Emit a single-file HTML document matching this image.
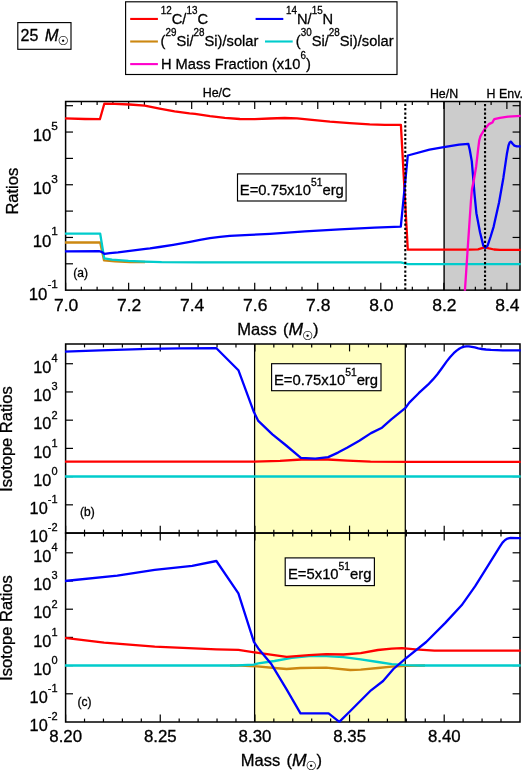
<!DOCTYPE html>
<html lang="en">
<head>
<meta charset="utf-8">
<title>25 M&#9737; isotope ratios</title>
<style>html,body{margin:0;padding:0;background:#fff}svg{display:block}text{stroke:#000;stroke-width:.3px}</style>
</head>
<body>
<svg width="522" height="770" viewBox="0 0 522 770" font-family='"Liberation Sans", sans-serif' fill="#000">
<rect x="0" y="0" width="522" height="770" fill="#fff"/>
<rect x="444.1" y="101.5" width="75.9" height="188.65" fill="#cccccc"/>
<rect x="254.6" y="344" width="150.7" height="378" fill="#ffffc0"/>
<defs>
<clipPath id="ca"><rect x="64.9" y="100.8" width="455.8" height="190.05"/></clipPath>
<clipPath id="cb"><rect x="64.9" y="343.3" width="455.8" height="190.45"/></clipPath>
<clipPath id="cc"><rect x="64.9" y="532.35" width="455.8" height="190.35"/></clipPath>
</defs>
<line x1="444.1" y1="101.5" x2="444.1" y2="290.15" stroke="#000" stroke-width="1.4" />
<line x1="254.6" y1="344" x2="254.6" y2="722" stroke="#000" stroke-width="1.25" />
<line x1="405.3" y1="344" x2="405.3" y2="722" stroke="#000" stroke-width="1.25" />
<line x1="65.6" y1="290.15" x2="65.6" y2="282.75" stroke="#000" stroke-width="1.2" />
<line x1="65.6" y1="101.5" x2="65.6" y2="108.9" stroke="#000" stroke-width="1.2" />
<line x1="81.36" y1="290.15" x2="81.36" y2="286.75" stroke="#000" stroke-width="1.2" />
<line x1="81.36" y1="101.5" x2="81.36" y2="104.9" stroke="#000" stroke-width="1.2" />
<line x1="97.12" y1="290.15" x2="97.12" y2="286.75" stroke="#000" stroke-width="1.2" />
<line x1="97.12" y1="101.5" x2="97.12" y2="104.9" stroke="#000" stroke-width="1.2" />
<line x1="112.88" y1="290.15" x2="112.88" y2="286.75" stroke="#000" stroke-width="1.2" />
<line x1="112.88" y1="101.5" x2="112.88" y2="104.9" stroke="#000" stroke-width="1.2" />
<line x1="128.64" y1="290.15" x2="128.64" y2="282.75" stroke="#000" stroke-width="1.2" />
<line x1="128.64" y1="101.5" x2="128.64" y2="108.9" stroke="#000" stroke-width="1.2" />
<line x1="144.4" y1="290.15" x2="144.4" y2="286.75" stroke="#000" stroke-width="1.2" />
<line x1="144.4" y1="101.5" x2="144.4" y2="104.9" stroke="#000" stroke-width="1.2" />
<line x1="160.16" y1="290.15" x2="160.16" y2="286.75" stroke="#000" stroke-width="1.2" />
<line x1="160.16" y1="101.5" x2="160.16" y2="104.9" stroke="#000" stroke-width="1.2" />
<line x1="175.92" y1="290.15" x2="175.92" y2="286.75" stroke="#000" stroke-width="1.2" />
<line x1="175.92" y1="101.5" x2="175.92" y2="104.9" stroke="#000" stroke-width="1.2" />
<line x1="191.68" y1="290.15" x2="191.68" y2="282.75" stroke="#000" stroke-width="1.2" />
<line x1="191.68" y1="101.5" x2="191.68" y2="108.9" stroke="#000" stroke-width="1.2" />
<line x1="207.44" y1="290.15" x2="207.44" y2="286.75" stroke="#000" stroke-width="1.2" />
<line x1="207.44" y1="101.5" x2="207.44" y2="104.9" stroke="#000" stroke-width="1.2" />
<line x1="223.2" y1="290.15" x2="223.2" y2="286.75" stroke="#000" stroke-width="1.2" />
<line x1="223.2" y1="101.5" x2="223.2" y2="104.9" stroke="#000" stroke-width="1.2" />
<line x1="238.96" y1="290.15" x2="238.96" y2="286.75" stroke="#000" stroke-width="1.2" />
<line x1="238.96" y1="101.5" x2="238.96" y2="104.9" stroke="#000" stroke-width="1.2" />
<line x1="254.72" y1="290.15" x2="254.72" y2="282.75" stroke="#000" stroke-width="1.2" />
<line x1="254.72" y1="101.5" x2="254.72" y2="108.9" stroke="#000" stroke-width="1.2" />
<line x1="270.48" y1="290.15" x2="270.48" y2="286.75" stroke="#000" stroke-width="1.2" />
<line x1="270.48" y1="101.5" x2="270.48" y2="104.9" stroke="#000" stroke-width="1.2" />
<line x1="286.24" y1="290.15" x2="286.24" y2="286.75" stroke="#000" stroke-width="1.2" />
<line x1="286.24" y1="101.5" x2="286.24" y2="104.9" stroke="#000" stroke-width="1.2" />
<line x1="302" y1="290.15" x2="302" y2="286.75" stroke="#000" stroke-width="1.2" />
<line x1="302" y1="101.5" x2="302" y2="104.9" stroke="#000" stroke-width="1.2" />
<line x1="317.76" y1="290.15" x2="317.76" y2="282.75" stroke="#000" stroke-width="1.2" />
<line x1="317.76" y1="101.5" x2="317.76" y2="108.9" stroke="#000" stroke-width="1.2" />
<line x1="333.52" y1="290.15" x2="333.52" y2="286.75" stroke="#000" stroke-width="1.2" />
<line x1="333.52" y1="101.5" x2="333.52" y2="104.9" stroke="#000" stroke-width="1.2" />
<line x1="349.28" y1="290.15" x2="349.28" y2="286.75" stroke="#000" stroke-width="1.2" />
<line x1="349.28" y1="101.5" x2="349.28" y2="104.9" stroke="#000" stroke-width="1.2" />
<line x1="365.04" y1="290.15" x2="365.04" y2="286.75" stroke="#000" stroke-width="1.2" />
<line x1="365.04" y1="101.5" x2="365.04" y2="104.9" stroke="#000" stroke-width="1.2" />
<line x1="380.8" y1="290.15" x2="380.8" y2="282.75" stroke="#000" stroke-width="1.2" />
<line x1="380.8" y1="101.5" x2="380.8" y2="108.9" stroke="#000" stroke-width="1.2" />
<line x1="396.56" y1="290.15" x2="396.56" y2="286.75" stroke="#000" stroke-width="1.2" />
<line x1="396.56" y1="101.5" x2="396.56" y2="104.9" stroke="#000" stroke-width="1.2" />
<line x1="412.32" y1="290.15" x2="412.32" y2="286.75" stroke="#000" stroke-width="1.2" />
<line x1="412.32" y1="101.5" x2="412.32" y2="104.9" stroke="#000" stroke-width="1.2" />
<line x1="428.08" y1="290.15" x2="428.08" y2="286.75" stroke="#000" stroke-width="1.2" />
<line x1="428.08" y1="101.5" x2="428.08" y2="104.9" stroke="#000" stroke-width="1.2" />
<line x1="443.84" y1="290.15" x2="443.84" y2="282.75" stroke="#000" stroke-width="1.2" />
<line x1="443.84" y1="101.5" x2="443.84" y2="108.9" stroke="#000" stroke-width="1.2" />
<line x1="459.6" y1="290.15" x2="459.6" y2="286.75" stroke="#000" stroke-width="1.2" />
<line x1="459.6" y1="101.5" x2="459.6" y2="104.9" stroke="#000" stroke-width="1.2" />
<line x1="475.36" y1="290.15" x2="475.36" y2="286.75" stroke="#000" stroke-width="1.2" />
<line x1="475.36" y1="101.5" x2="475.36" y2="104.9" stroke="#000" stroke-width="1.2" />
<line x1="491.12" y1="290.15" x2="491.12" y2="286.75" stroke="#000" stroke-width="1.2" />
<line x1="491.12" y1="101.5" x2="491.12" y2="104.9" stroke="#000" stroke-width="1.2" />
<line x1="506.88" y1="290.15" x2="506.88" y2="282.75" stroke="#000" stroke-width="1.2" />
<line x1="506.88" y1="101.5" x2="506.88" y2="108.9" stroke="#000" stroke-width="1.2" />
<line x1="65.6" y1="263.8" x2="73" y2="263.8" stroke="#000" stroke-width="1.2" />
<line x1="520" y1="263.8" x2="512.6" y2="263.8" stroke="#000" stroke-width="1.2" />
<line x1="65.6" y1="237.45" x2="73" y2="237.45" stroke="#000" stroke-width="1.2" />
<line x1="520" y1="237.45" x2="512.6" y2="237.45" stroke="#000" stroke-width="1.2" />
<line x1="65.6" y1="211.1" x2="73" y2="211.1" stroke="#000" stroke-width="1.2" />
<line x1="520" y1="211.1" x2="512.6" y2="211.1" stroke="#000" stroke-width="1.2" />
<line x1="65.6" y1="184.75" x2="73" y2="184.75" stroke="#000" stroke-width="1.2" />
<line x1="520" y1="184.75" x2="512.6" y2="184.75" stroke="#000" stroke-width="1.2" />
<line x1="65.6" y1="158.4" x2="73" y2="158.4" stroke="#000" stroke-width="1.2" />
<line x1="520" y1="158.4" x2="512.6" y2="158.4" stroke="#000" stroke-width="1.2" />
<line x1="65.6" y1="132.05" x2="73" y2="132.05" stroke="#000" stroke-width="1.2" />
<line x1="520" y1="132.05" x2="512.6" y2="132.05" stroke="#000" stroke-width="1.2" />
<line x1="65.6" y1="105.7" x2="73" y2="105.7" stroke="#000" stroke-width="1.2" />
<line x1="520" y1="105.7" x2="512.6" y2="105.7" stroke="#000" stroke-width="1.2" />
<line x1="65.6" y1="533.05" x2="65.6" y2="525.65" stroke="#000" stroke-width="1.2" />
<line x1="65.6" y1="344" x2="65.6" y2="351.4" stroke="#000" stroke-width="1.2" />
<line x1="84.53" y1="533.05" x2="84.53" y2="529.65" stroke="#000" stroke-width="1.2" />
<line x1="84.53" y1="344" x2="84.53" y2="347.4" stroke="#000" stroke-width="1.2" />
<line x1="103.46" y1="533.05" x2="103.46" y2="529.65" stroke="#000" stroke-width="1.2" />
<line x1="103.46" y1="344" x2="103.46" y2="347.4" stroke="#000" stroke-width="1.2" />
<line x1="122.39" y1="533.05" x2="122.39" y2="529.65" stroke="#000" stroke-width="1.2" />
<line x1="122.39" y1="344" x2="122.39" y2="347.4" stroke="#000" stroke-width="1.2" />
<line x1="141.32" y1="533.05" x2="141.32" y2="529.65" stroke="#000" stroke-width="1.2" />
<line x1="141.32" y1="344" x2="141.32" y2="347.4" stroke="#000" stroke-width="1.2" />
<line x1="160.25" y1="533.05" x2="160.25" y2="525.65" stroke="#000" stroke-width="1.2" />
<line x1="160.25" y1="344" x2="160.25" y2="351.4" stroke="#000" stroke-width="1.2" />
<line x1="179.18" y1="533.05" x2="179.18" y2="529.65" stroke="#000" stroke-width="1.2" />
<line x1="179.18" y1="344" x2="179.18" y2="347.4" stroke="#000" stroke-width="1.2" />
<line x1="198.11" y1="533.05" x2="198.11" y2="529.65" stroke="#000" stroke-width="1.2" />
<line x1="198.11" y1="344" x2="198.11" y2="347.4" stroke="#000" stroke-width="1.2" />
<line x1="217.04" y1="533.05" x2="217.04" y2="529.65" stroke="#000" stroke-width="1.2" />
<line x1="217.04" y1="344" x2="217.04" y2="347.4" stroke="#000" stroke-width="1.2" />
<line x1="235.97" y1="533.05" x2="235.97" y2="529.65" stroke="#000" stroke-width="1.2" />
<line x1="235.97" y1="344" x2="235.97" y2="347.4" stroke="#000" stroke-width="1.2" />
<line x1="254.9" y1="533.05" x2="254.9" y2="525.65" stroke="#000" stroke-width="1.2" />
<line x1="254.9" y1="344" x2="254.9" y2="351.4" stroke="#000" stroke-width="1.2" />
<line x1="273.83" y1="533.05" x2="273.83" y2="529.65" stroke="#000" stroke-width="1.2" />
<line x1="273.83" y1="344" x2="273.83" y2="347.4" stroke="#000" stroke-width="1.2" />
<line x1="292.76" y1="533.05" x2="292.76" y2="529.65" stroke="#000" stroke-width="1.2" />
<line x1="292.76" y1="344" x2="292.76" y2="347.4" stroke="#000" stroke-width="1.2" />
<line x1="311.69" y1="533.05" x2="311.69" y2="529.65" stroke="#000" stroke-width="1.2" />
<line x1="311.69" y1="344" x2="311.69" y2="347.4" stroke="#000" stroke-width="1.2" />
<line x1="330.62" y1="533.05" x2="330.62" y2="529.65" stroke="#000" stroke-width="1.2" />
<line x1="330.62" y1="344" x2="330.62" y2="347.4" stroke="#000" stroke-width="1.2" />
<line x1="349.55" y1="533.05" x2="349.55" y2="525.65" stroke="#000" stroke-width="1.2" />
<line x1="349.55" y1="344" x2="349.55" y2="351.4" stroke="#000" stroke-width="1.2" />
<line x1="368.48" y1="533.05" x2="368.48" y2="529.65" stroke="#000" stroke-width="1.2" />
<line x1="368.48" y1="344" x2="368.48" y2="347.4" stroke="#000" stroke-width="1.2" />
<line x1="387.41" y1="533.05" x2="387.41" y2="529.65" stroke="#000" stroke-width="1.2" />
<line x1="387.41" y1="344" x2="387.41" y2="347.4" stroke="#000" stroke-width="1.2" />
<line x1="406.34" y1="533.05" x2="406.34" y2="529.65" stroke="#000" stroke-width="1.2" />
<line x1="406.34" y1="344" x2="406.34" y2="347.4" stroke="#000" stroke-width="1.2" />
<line x1="425.27" y1="533.05" x2="425.27" y2="529.65" stroke="#000" stroke-width="1.2" />
<line x1="425.27" y1="344" x2="425.27" y2="347.4" stroke="#000" stroke-width="1.2" />
<line x1="444.2" y1="533.05" x2="444.2" y2="525.65" stroke="#000" stroke-width="1.2" />
<line x1="444.2" y1="344" x2="444.2" y2="351.4" stroke="#000" stroke-width="1.2" />
<line x1="463.13" y1="533.05" x2="463.13" y2="529.65" stroke="#000" stroke-width="1.2" />
<line x1="463.13" y1="344" x2="463.13" y2="347.4" stroke="#000" stroke-width="1.2" />
<line x1="482.06" y1="533.05" x2="482.06" y2="529.65" stroke="#000" stroke-width="1.2" />
<line x1="482.06" y1="344" x2="482.06" y2="347.4" stroke="#000" stroke-width="1.2" />
<line x1="500.99" y1="533.05" x2="500.99" y2="529.65" stroke="#000" stroke-width="1.2" />
<line x1="500.99" y1="344" x2="500.99" y2="347.4" stroke="#000" stroke-width="1.2" />
<line x1="65.6" y1="504.83" x2="73" y2="504.83" stroke="#000" stroke-width="1.2" />
<line x1="520" y1="504.83" x2="512.6" y2="504.83" stroke="#000" stroke-width="1.2" />
<line x1="65.6" y1="476.61" x2="73" y2="476.61" stroke="#000" stroke-width="1.2" />
<line x1="520" y1="476.61" x2="512.6" y2="476.61" stroke="#000" stroke-width="1.2" />
<line x1="65.6" y1="448.39" x2="73" y2="448.39" stroke="#000" stroke-width="1.2" />
<line x1="520" y1="448.39" x2="512.6" y2="448.39" stroke="#000" stroke-width="1.2" />
<line x1="65.6" y1="420.17" x2="73" y2="420.17" stroke="#000" stroke-width="1.2" />
<line x1="520" y1="420.17" x2="512.6" y2="420.17" stroke="#000" stroke-width="1.2" />
<line x1="65.6" y1="391.95" x2="73" y2="391.95" stroke="#000" stroke-width="1.2" />
<line x1="520" y1="391.95" x2="512.6" y2="391.95" stroke="#000" stroke-width="1.2" />
<line x1="65.6" y1="363.73" x2="73" y2="363.73" stroke="#000" stroke-width="1.2" />
<line x1="520" y1="363.73" x2="512.6" y2="363.73" stroke="#000" stroke-width="1.2" />
<line x1="65.6" y1="722" x2="65.6" y2="714.6" stroke="#000" stroke-width="1.2" />
<line x1="65.6" y1="533.05" x2="65.6" y2="540.45" stroke="#000" stroke-width="1.2" />
<line x1="84.53" y1="722" x2="84.53" y2="718.6" stroke="#000" stroke-width="1.2" />
<line x1="84.53" y1="533.05" x2="84.53" y2="536.45" stroke="#000" stroke-width="1.2" />
<line x1="103.46" y1="722" x2="103.46" y2="718.6" stroke="#000" stroke-width="1.2" />
<line x1="103.46" y1="533.05" x2="103.46" y2="536.45" stroke="#000" stroke-width="1.2" />
<line x1="122.39" y1="722" x2="122.39" y2="718.6" stroke="#000" stroke-width="1.2" />
<line x1="122.39" y1="533.05" x2="122.39" y2="536.45" stroke="#000" stroke-width="1.2" />
<line x1="141.32" y1="722" x2="141.32" y2="718.6" stroke="#000" stroke-width="1.2" />
<line x1="141.32" y1="533.05" x2="141.32" y2="536.45" stroke="#000" stroke-width="1.2" />
<line x1="160.25" y1="722" x2="160.25" y2="714.6" stroke="#000" stroke-width="1.2" />
<line x1="160.25" y1="533.05" x2="160.25" y2="540.45" stroke="#000" stroke-width="1.2" />
<line x1="179.18" y1="722" x2="179.18" y2="718.6" stroke="#000" stroke-width="1.2" />
<line x1="179.18" y1="533.05" x2="179.18" y2="536.45" stroke="#000" stroke-width="1.2" />
<line x1="198.11" y1="722" x2="198.11" y2="718.6" stroke="#000" stroke-width="1.2" />
<line x1="198.11" y1="533.05" x2="198.11" y2="536.45" stroke="#000" stroke-width="1.2" />
<line x1="217.04" y1="722" x2="217.04" y2="718.6" stroke="#000" stroke-width="1.2" />
<line x1="217.04" y1="533.05" x2="217.04" y2="536.45" stroke="#000" stroke-width="1.2" />
<line x1="235.97" y1="722" x2="235.97" y2="718.6" stroke="#000" stroke-width="1.2" />
<line x1="235.97" y1="533.05" x2="235.97" y2="536.45" stroke="#000" stroke-width="1.2" />
<line x1="254.9" y1="722" x2="254.9" y2="714.6" stroke="#000" stroke-width="1.2" />
<line x1="254.9" y1="533.05" x2="254.9" y2="540.45" stroke="#000" stroke-width="1.2" />
<line x1="273.83" y1="722" x2="273.83" y2="718.6" stroke="#000" stroke-width="1.2" />
<line x1="273.83" y1="533.05" x2="273.83" y2="536.45" stroke="#000" stroke-width="1.2" />
<line x1="292.76" y1="722" x2="292.76" y2="718.6" stroke="#000" stroke-width="1.2" />
<line x1="292.76" y1="533.05" x2="292.76" y2="536.45" stroke="#000" stroke-width="1.2" />
<line x1="311.69" y1="722" x2="311.69" y2="718.6" stroke="#000" stroke-width="1.2" />
<line x1="311.69" y1="533.05" x2="311.69" y2="536.45" stroke="#000" stroke-width="1.2" />
<line x1="330.62" y1="722" x2="330.62" y2="718.6" stroke="#000" stroke-width="1.2" />
<line x1="330.62" y1="533.05" x2="330.62" y2="536.45" stroke="#000" stroke-width="1.2" />
<line x1="349.55" y1="722" x2="349.55" y2="714.6" stroke="#000" stroke-width="1.2" />
<line x1="349.55" y1="533.05" x2="349.55" y2="540.45" stroke="#000" stroke-width="1.2" />
<line x1="368.48" y1="722" x2="368.48" y2="718.6" stroke="#000" stroke-width="1.2" />
<line x1="368.48" y1="533.05" x2="368.48" y2="536.45" stroke="#000" stroke-width="1.2" />
<line x1="387.41" y1="722" x2="387.41" y2="718.6" stroke="#000" stroke-width="1.2" />
<line x1="387.41" y1="533.05" x2="387.41" y2="536.45" stroke="#000" stroke-width="1.2" />
<line x1="406.34" y1="722" x2="406.34" y2="718.6" stroke="#000" stroke-width="1.2" />
<line x1="406.34" y1="533.05" x2="406.34" y2="536.45" stroke="#000" stroke-width="1.2" />
<line x1="425.27" y1="722" x2="425.27" y2="718.6" stroke="#000" stroke-width="1.2" />
<line x1="425.27" y1="533.05" x2="425.27" y2="536.45" stroke="#000" stroke-width="1.2" />
<line x1="444.2" y1="722" x2="444.2" y2="714.6" stroke="#000" stroke-width="1.2" />
<line x1="444.2" y1="533.05" x2="444.2" y2="540.45" stroke="#000" stroke-width="1.2" />
<line x1="463.13" y1="722" x2="463.13" y2="718.6" stroke="#000" stroke-width="1.2" />
<line x1="463.13" y1="533.05" x2="463.13" y2="536.45" stroke="#000" stroke-width="1.2" />
<line x1="482.06" y1="722" x2="482.06" y2="718.6" stroke="#000" stroke-width="1.2" />
<line x1="482.06" y1="533.05" x2="482.06" y2="536.45" stroke="#000" stroke-width="1.2" />
<line x1="500.99" y1="722" x2="500.99" y2="718.6" stroke="#000" stroke-width="1.2" />
<line x1="500.99" y1="533.05" x2="500.99" y2="536.45" stroke="#000" stroke-width="1.2" />
<line x1="65.6" y1="693.8" x2="73" y2="693.8" stroke="#000" stroke-width="1.2" />
<line x1="520" y1="693.8" x2="512.6" y2="693.8" stroke="#000" stroke-width="1.2" />
<line x1="65.6" y1="665.6" x2="73" y2="665.6" stroke="#000" stroke-width="1.2" />
<line x1="520" y1="665.6" x2="512.6" y2="665.6" stroke="#000" stroke-width="1.2" />
<line x1="65.6" y1="637.4" x2="73" y2="637.4" stroke="#000" stroke-width="1.2" />
<line x1="520" y1="637.4" x2="512.6" y2="637.4" stroke="#000" stroke-width="1.2" />
<line x1="65.6" y1="609.2" x2="73" y2="609.2" stroke="#000" stroke-width="1.2" />
<line x1="520" y1="609.2" x2="512.6" y2="609.2" stroke="#000" stroke-width="1.2" />
<line x1="65.6" y1="581" x2="73" y2="581" stroke="#000" stroke-width="1.2" />
<line x1="520" y1="581" x2="512.6" y2="581" stroke="#000" stroke-width="1.2" />
<line x1="65.6" y1="552.8" x2="73" y2="552.8" stroke="#000" stroke-width="1.2" />
<line x1="520" y1="552.8" x2="512.6" y2="552.8" stroke="#000" stroke-width="1.2" />
<rect x="65.6" y="101.5" width="454.4" height="188.65" fill="none" stroke="#000" stroke-width="1.5"/>
<rect x="65.6" y="344" width="454.4" height="189.05" fill="none" stroke="#000" stroke-width="1.5"/>
<rect x="65.6" y="533.05" width="454.4" height="188.95" fill="none" stroke="#000" stroke-width="1.5"/>
<g clip-path="url(#ca)">
<polyline points="140,262.1 161.6,262.3 400.9,262.5 407.8,264.2 521,264.2" fill="none" stroke="#cc8811" stroke-width="1" stroke-linejoin="round" />
<polyline points="64.8,242.5 100.2,242.5 104,260.3 115,261.4 130,262 145,262" fill="none" stroke="#cc8811" stroke-width="2.3" stroke-linejoin="round" />
<polyline points="64.8,233.7 100.2,233.7 104.2,258.3 112,259.6 128.4,260.8 145,261.6 161.6,262.1 200,262.3 400.9,262.4 407.8,264.1 521,264.1" fill="none" stroke="#00cccc" stroke-width="2.3" stroke-linejoin="round" />
<polyline points="64.8,118.4 85,119 99.9,119.2 104.3,103.7 115,103.9 129.7,104.5 144.7,105.7 159.6,108.7 174.6,111.4 189.5,113.4 195,113.9 210,116.2 224.8,117.9 239.8,119 254.7,119.2 269.7,118.5 284.6,118 297,118.4 309.5,119.6 329.9,121.6 349.8,123.1 369.7,124.4 384.7,124.9 400.9,124.9 407.8,249.7 440,249.7 470,249.6 478,249.3 482,248.2 485.3,247.4 489,248.4 494,249.5 500,249.8 521,249.8" fill="none" stroke="#ff0000" stroke-width="2.3" stroke-linejoin="round" />
<polyline points="64.8,251.3 99,251.2 101.5,251.8 104.4,253.9 110,253.2 118,252.4 131.8,250.7 145.6,248.9 150,248.4 159.4,247 173.2,244.8 190,241.8 200,239.8 209.9,238.1 220,236.8 229.8,235.8 249.8,234.9 270,233.9 304.9,231.4 339.7,229.3 374.6,227.7 400.8,226.6 407.8,155.5 429.5,149.6 443.8,147.1 459.1,144.7 468.3,143.8 469.8,150 471.8,161.4 473.2,178 474.5,194.1 476.4,213.2 480,232.3 483.3,245.6 485.4,247.7 487.6,245.6 490.5,237 493.6,226.8 499.1,202.3 503.4,177.7 507,153.2 508.5,145.5 509.7,142.4 511,141.6 512.6,143.8 514.4,145.6 516.8,146.3 521,146.4" fill="none" stroke="#0000ff" stroke-width="2.3" stroke-linejoin="round" />
<polyline points="464.9,291 468,244 471,200 472,189 474,179.2 476.2,166.2 476.9,160 478.1,149.4 479.2,140.6 480.4,136.4 482.1,133.3 485,128.7 489,124.1 491,123.1 492.5,122.5 493.4,120.6 494.3,119.2 499.9,117.8 508,116.7 521,115.8" fill="none" stroke="#ff00cc" stroke-width="2.3" stroke-linejoin="round" />
</g>
<line x1="405.29" y1="101.5" x2="405.29" y2="290.15" stroke="#000" stroke-width="2.1" stroke-dasharray="2.25 2.02" stroke-dashoffset="-2.35"/>
<line x1="485.04" y1="101.5" x2="485.04" y2="290.15" stroke="#000" stroke-width="2.1" stroke-dasharray="2.25 2.02" stroke-dashoffset="-2.5"/>
<g clip-path="url(#cb)">
<polyline points="64.8,476.5 521,476.5" fill="none" stroke="#cc8811" stroke-width="1" stroke-linejoin="round" />
<polyline points="64.8,476.5 521,476.5" fill="none" stroke="#00cccc" stroke-width="2.3" stroke-linejoin="round" />
<polyline points="64.8,461.6 216,461.6 254,461.6 280,460.9 301.5,459.5 315.3,459.3 328,459.5 347.5,460.7 370.5,461.7 410,461.9 521,461.8" fill="none" stroke="#ff0000" stroke-width="2.3" stroke-linejoin="round" />
<polyline points="64.8,351.7 100,350.4 148.1,348.8 180,348.3 216.4,348.2 238.4,370.2 253.9,412.1 258.3,420.9 272.4,434.3 286.2,445.5 300.9,457.8 315.3,458.6 328.2,457.1 338,452.6 347.5,447.6 359.3,440.8 371,433.1 382,427.7 391.3,419.4 405.2,408.2 409.3,402.6 418.7,393.2 428,384.7 433,379.4 437.4,374.2 442,368 446.7,361.4 450.2,357 453.7,353.2 456.6,350.6 459.6,348.5 462,347.3 464.3,346.6 466.6,346.3 468.9,346.4 471.8,346.8 474.8,347.4 478.3,348.3 481.8,349 486,349.5 491.1,349.9 502.8,350.4 521,350.4" fill="none" stroke="#0000ff" stroke-width="2.3" stroke-linejoin="round" />
</g>
<g clip-path="url(#cc)">
<polyline points="64.8,665.5 236,665.5" fill="none" stroke="#cc8811" stroke-width="1" stroke-linejoin="round" />
<polyline points="420,665.5 521,665.5" fill="none" stroke="#cc8811" stroke-width="1" stroke-linejoin="round" />
<polyline points="230,665.5 240,665.6 257.2,666.3 274.5,668 286.6,669 300.3,668 326.2,667.6 350.3,670 360.7,669.7 377.9,668 391.7,666.6 405.5,665.9 425,665.5" fill="none" stroke="#cc8811" stroke-width="2.3" stroke-linejoin="round" />
<polyline points="64.8,665.5 236,665.5 253.8,664.6 258.3,663.4 274.5,661 291.7,657.9 309,656.2 326.2,656.2 343.4,657.2 360.7,659.3 377.9,662 391.7,664.1 405.5,665.2 420,665.5 521,665.5" fill="none" stroke="#00cccc" stroke-width="2.3" stroke-linejoin="round" />
<polyline points="64.8,637.8 104.1,642.6 154.7,646.6 216.4,649.3 238.4,649.9 258.3,652.9 286.6,656.9 309,655.2 326.2,654.1 343.4,654.5 360.7,653.1 377.9,650 391.7,648.6 402,648.1 415.4,649.3 434.4,650.7 521,650.7" fill="none" stroke="#ff0000" stroke-width="2.3" stroke-linejoin="round" />
<polyline points="64.8,581 117.3,575.7 154.7,569.9 192.2,565.8 216.4,561 238.4,593.3 253.9,641.8 258.3,648.4 271.5,664.3 286.6,689.4 300.5,713.3 328.6,713.3 339.3,721.9 350.3,711 371,690.3 383.1,681 393.4,669 405.5,658.6 426.2,642 445.3,622.9 461.6,605.3 475.2,586.2 488.8,564.4 499.7,546.8 502.5,542.6 505.1,540 507.5,538.6 510.6,537.9 519.3,538.1 521,538.1" fill="none" stroke="#0000ff" stroke-width="2.3" stroke-linejoin="round" />
</g>
<text x="57.9" y="299.55" font-size="16.8" text-anchor="end" >10<tspan font-size="11.8" dy="-11.4">-1</tspan></text>
<text x="57.9" y="246.85" font-size="16.8" text-anchor="end" >10<tspan font-size="11.8" dy="-11.4">1</tspan></text>
<text x="57.9" y="194.15" font-size="16.8" text-anchor="end" >10<tspan font-size="11.8" dy="-11.4">3</tspan></text>
<text x="57.9" y="141.45" font-size="16.8" text-anchor="end" >10<tspan font-size="11.8" dy="-11.4">5</tspan></text>
<text x="57.5" y="542.25" font-size="16.3" text-anchor="end" >10<tspan font-size="11" dy="-10.8">-2</tspan></text>
<text x="57.5" y="514.03" font-size="16.3" text-anchor="end" >10<tspan font-size="11" dy="-10.8">-1</tspan></text>
<text x="57.5" y="485.81" font-size="16.3" text-anchor="end" >10<tspan font-size="11" dy="-10.8">0</tspan></text>
<text x="57.5" y="457.59" font-size="16.3" text-anchor="end" >10<tspan font-size="11" dy="-10.8">1</tspan></text>
<text x="57.5" y="429.37" font-size="16.3" text-anchor="end" >10<tspan font-size="11" dy="-10.8">2</tspan></text>
<text x="57.5" y="401.15" font-size="16.3" text-anchor="end" >10<tspan font-size="11" dy="-10.8">3</tspan></text>
<text x="57.5" y="372.93" font-size="16.3" text-anchor="end" >10<tspan font-size="11" dy="-10.8">4</tspan></text>
<text x="57.5" y="731.2" font-size="16.3" text-anchor="end" >10<tspan font-size="11" dy="-10.8">-2</tspan></text>
<text x="57.5" y="703" font-size="16.3" text-anchor="end" >10<tspan font-size="11" dy="-10.8">-1</tspan></text>
<text x="57.5" y="674.8" font-size="16.3" text-anchor="end" >10<tspan font-size="11" dy="-10.8">0</tspan></text>
<text x="57.5" y="646.6" font-size="16.3" text-anchor="end" >10<tspan font-size="11" dy="-10.8">1</tspan></text>
<text x="57.5" y="618.4" font-size="16.3" text-anchor="end" >10<tspan font-size="11" dy="-10.8">2</tspan></text>
<text x="57.5" y="590.2" font-size="16.3" text-anchor="end" >10<tspan font-size="11" dy="-10.8">3</tspan></text>
<text x="57.5" y="562" font-size="16.3" text-anchor="end" >10<tspan font-size="11" dy="-10.8">4</tspan></text>
<text transform="translate(66.1 310.7) scale(1.055 1)" font-size="16.6" text-anchor="middle" >7.0</text>
<text transform="translate(129.14 310.7) scale(1.055 1)" font-size="16.6" text-anchor="middle" >7.2</text>
<text transform="translate(192.18 310.7) scale(1.055 1)" font-size="16.6" text-anchor="middle" >7.4</text>
<text transform="translate(255.22 310.7) scale(1.055 1)" font-size="16.6" text-anchor="middle" >7.6</text>
<text transform="translate(318.26 310.7) scale(1.055 1)" font-size="16.6" text-anchor="middle" >7.8</text>
<text transform="translate(381.3 310.7) scale(1.055 1)" font-size="16.6" text-anchor="middle" >8.0</text>
<text transform="translate(444.34 310.7) scale(1.055 1)" font-size="16.6" text-anchor="middle" >8.2</text>
<text transform="translate(507.38 310.7) scale(1.055 1)" font-size="16.6" text-anchor="middle" >8.4</text>
<text transform="translate(65.7 742.1) scale(1.040 1)" font-size="16.2" text-anchor="middle" >8.20</text>
<text transform="translate(160.35 742.1) scale(1.040 1)" font-size="16.2" text-anchor="middle" >8.25</text>
<text transform="translate(255 742.1) scale(1.040 1)" font-size="16.2" text-anchor="middle" >8.30</text>
<text transform="translate(349.65 742.1) scale(1.040 1)" font-size="16.2" text-anchor="middle" >8.35</text>
<text transform="translate(444.3 742.1) scale(1.040 1)" font-size="16.2" text-anchor="middle" >8.40</text>
<text x="237.3" y="335.2" font-size="16.5">Mass <tspan dx="1.7">(</tspan></text>
<text transform="translate(288.4 335.2) scale(1.06 1)" font-size="16.5" font-style="italic">M</text>
<text x="307.6" y="339.9" font-size="12.2" text-anchor="middle" style="stroke-width:.12px" font-family='"DejaVu Sans", sans-serif'>&#9737;</text>
<text x="312.9" y="335.2" font-size="16.5">)</text>
<text x="240.8" y="765.5" font-size="16.5">Mass <tspan dx="1.7">(</tspan></text>
<text transform="translate(291.9 765.5) scale(1.06 1)" font-size="16.5" font-style="italic">M</text>
<text x="311.1" y="770.2" font-size="12.2" text-anchor="middle" style="stroke-width:.12px" font-family='"DejaVu Sans", sans-serif'>&#9737;</text>
<text x="316.4" y="765.5" font-size="16.5">)</text>
<text transform="translate(17.9 191.2) rotate(-90)" font-size="16.5" text-anchor="middle">Ratios</text>
<text transform="translate(12.0 439.1) rotate(-90)" font-size="16.5" text-anchor="middle">Isotope Ratios</text>
<text transform="translate(12.0 628.0) rotate(-90)" font-size="16.5" text-anchor="middle">Isotope Ratios</text>
<text x="73.3" y="276.6" font-size="12" text-anchor="start" >(a)</text>
<text x="80" y="516.2" font-size="12" text-anchor="start" >(b)</text>
<text x="77.4" y="706.4" font-size="12" text-anchor="start" >(c)</text>
<text x="216.9" y="97.3" font-size="12.4" text-anchor="middle" >He/C</text>
<text x="444" y="98.1" font-size="12.4" text-anchor="middle" >He/N</text>
<text x="486.6" y="97.7" font-size="12.4" text-anchor="start" >H Env.</text>
<rect x="237.5" y="173.9" width="108.6" height="27.1" fill="#fff" stroke="#000" stroke-width="1.15"/>
<text x="239.8" y="195.4" font-size="14.8" text-anchor="start" >E=0.75x10<tspan font-size="10.3" dy="-9.2">51</tspan><tspan dy="9.2">erg</tspan></text>
<rect x="271.6" y="363.7" width="109.4" height="27" fill="#fff" stroke="#000" stroke-width="1.15"/>
<text x="274" y="385.2" font-size="14.8" text-anchor="start" >E=0.75x10<tspan font-size="10.3" dy="-9.2">51</tspan><tspan dy="9.2">erg</tspan></text>
<rect x="285.2" y="557.9" width="89.2" height="27.7" fill="#fff" stroke="#000" stroke-width="1.15"/>
<text x="288" y="579.4" font-size="14.8" text-anchor="start" >E=5x10<tspan font-size="10.3" dy="-9.2">51</tspan><tspan dy="9.2">erg</tspan></text>
<rect x="17.8" y="22.6" width="53.2" height="26.7" fill="#fff" stroke="#000" stroke-width="1.15"/>
<text x="20.6" y="40.6" font-size="16">25 <tspan font-style="italic" dx="1.9" font-size="16.5">M</tspan></text>
<text x="63.1" y="45.0" font-size="12.2" text-anchor="middle" style="stroke-width:.12px" font-family='"DejaVu Sans", sans-serif'>&#9737;</text>
<rect x="125.6" y="1.8" width="271.4" height="72.7" fill="#fff" stroke="#000" stroke-width="1.15"/>
<line x1="130.2" y1="18.95" x2="157.9" y2="18.95" stroke="#ff0000" stroke-width="2.1" />
<text transform="translate(160.8 23.7) scale(0.948 1)" font-size="15.5" text-anchor="start" ><tspan font-size="10.4" dy="-9.8">12</tspan><tspan dy="9.8">C/</tspan><tspan font-size="10.4" dy="-9.8">13</tspan><tspan dy="9.8">C</tspan></text>
<line x1="255.6" y1="18.95" x2="283.3" y2="18.95" stroke="#0000ff" stroke-width="2.1" />
<text transform="translate(286 23.7) scale(0.948 1)" font-size="15.5" text-anchor="start" ><tspan font-size="10.4" dy="-9.8">14</tspan><tspan dy="9.8">N/</tspan><tspan font-size="10.4" dy="-9.8">15</tspan><tspan dy="9.8">N</tspan></text>
<line x1="130.2" y1="41.5" x2="157.9" y2="41.5" stroke="#cc8811" stroke-width="2.1" />
<text transform="translate(160.6 46.25) scale(0.948 1)" font-size="15.5" text-anchor="start" >(<tspan font-size="10.4" dy="-9.8">29</tspan><tspan dy="9.8">Si/</tspan><tspan font-size="10.4" dy="-9.8">28</tspan><tspan dy="9.8">Si)/solar</tspan></text>
<line x1="265" y1="41.5" x2="292.7" y2="41.5" stroke="#00cccc" stroke-width="2.1" />
<text transform="translate(295.8 46.25) scale(0.948 1)" font-size="15.5" text-anchor="start" >(<tspan font-size="10.4" dy="-9.8">30</tspan><tspan dy="9.8">Si/</tspan><tspan font-size="10.4" dy="-9.8">28</tspan><tspan dy="9.8">Si)/solar</tspan></text>
<line x1="130.2" y1="64.1" x2="157.9" y2="64.1" stroke="#ff00cc" stroke-width="2.1" />
<text transform="translate(160.9 68.85) scale(0.948 1)" font-size="15.5" text-anchor="start" >H Mass Fraction (x10<tspan font-size="10.4" dy="-9.8">6</tspan><tspan dy="9.8">)</tspan></text>
</svg>
</body>
</html>
